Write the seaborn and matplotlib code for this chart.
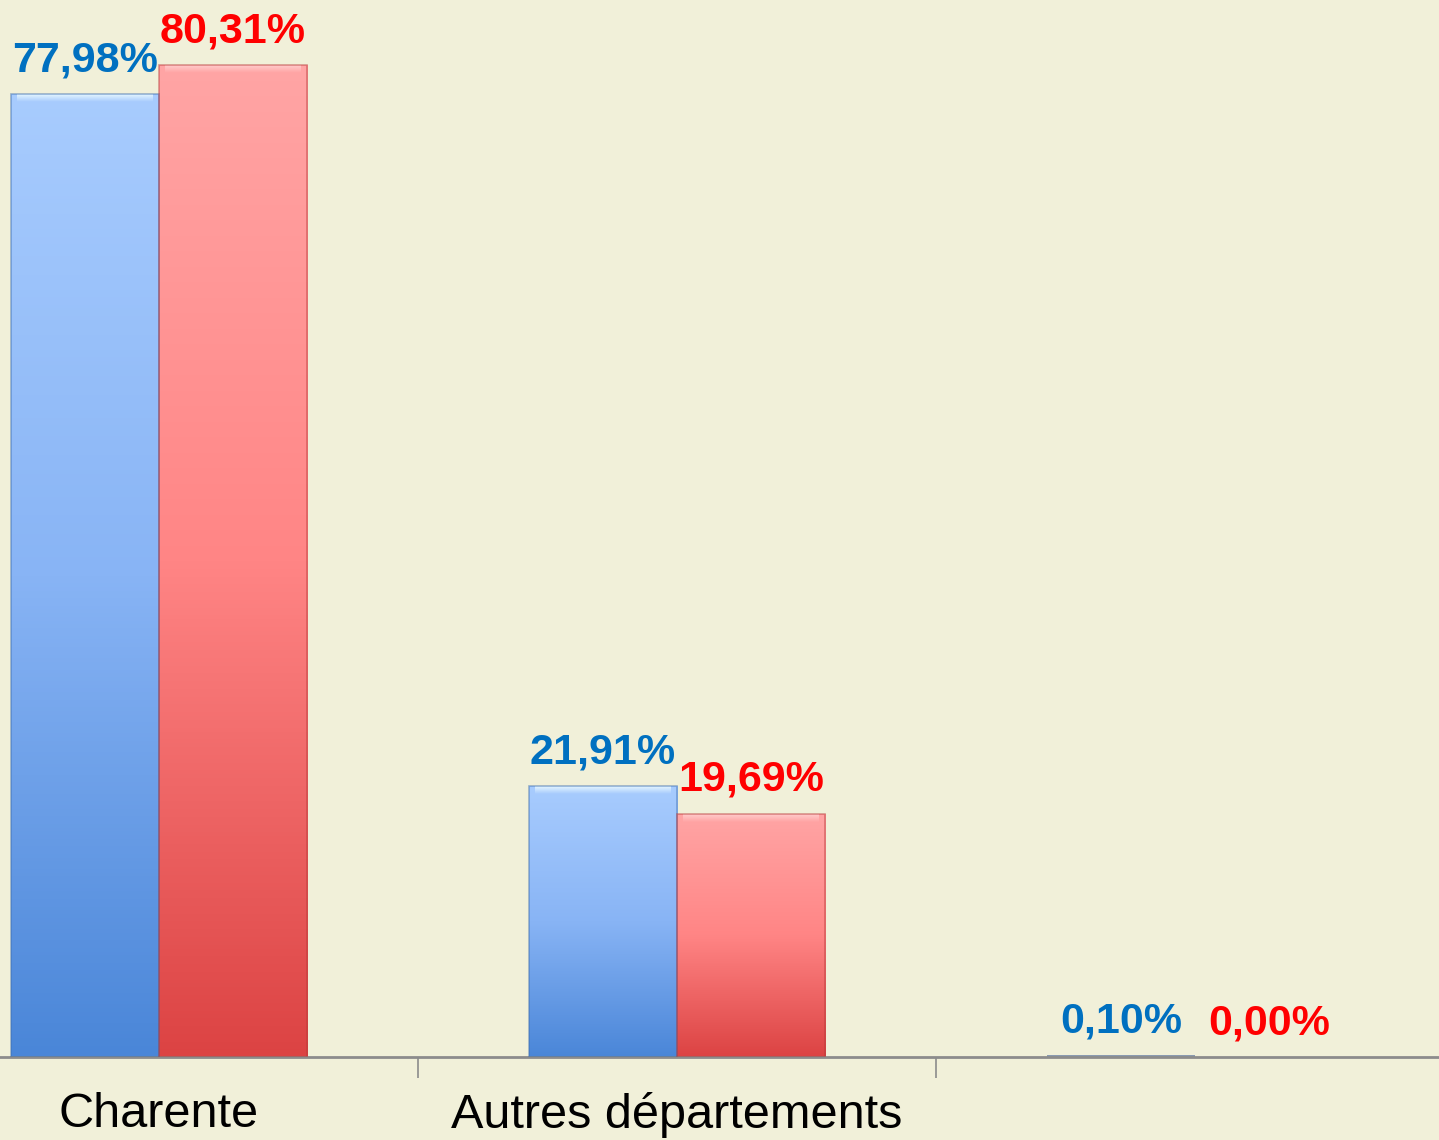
import numpy as np
import pandas as pd
import matplotlib
matplotlib.use("Agg")
import matplotlib.pyplot as plt
from matplotlib.colors import LinearSegmentedColormap
import seaborn as sns

categories = ["Charente", "Autres départements", " "]
series_names = ["Série A", "Série B"]
values_a = [77.98, 21.91, 0.10]
values_b = [80.31, 19.69, 0.00]
labels_a = ["77,98%", "21,91%", "0,10%"]
labels_b = ["80,31%", "19,69%", "0,00%"]

bg = "#F1F0D9"
sns.set_theme(style="white")
plt.rcParams['font.family'] = ['Liberation Sans', 'DejaVu Sans']

df = pd.DataFrame({
    "cat": categories * 2,
    "serie": [series_names[0]] * 3 + [series_names[1]] * 3,
    "val": values_a + values_b,
})

fig = plt.figure(figsize=(14.39, 11.40), dpi=100, facecolor=bg)
ax = fig.add_axes([0, 1 - 1057 / 1140, 1, 1057 / 1140])
ax.set_facecolor(bg)

sns.barplot(data=df, x="cat", y="val", hue="serie", order=categories,
            hue_order=series_names, palette=["#88B4F5", "#FF8585"],
            width=0.572, gap=0, dodge=True, ax=ax, legend=False,
            edgecolor="none", linewidth=0, saturation=1)

cmaps = {
    0: LinearSegmentedColormap.from_list("b", ["#4A86D8", "#88B4F5", "#A8CCFE"]),
    1: LinearSegmentedColormap.from_list("r", ["#DC4343", "#FF8585", "#FFA5A5"]),
}
edge_cols = {0: "#3E6FB0", 1: "#B83A3A"}
grad = np.linspace(0, 1, 256).reshape(-1, 1)
patches = [p for p in ax.patches]
for i, p in enumerate(patches):
    s = i // 3
    x0, y0 = p.get_x(), p.get_y()
    w, h = p.get_width(), p.get_height()
    if h <= 0:
        continue
    if h < 0.5:
        p.set_facecolor("#8A9AB0")
        p.set_height(0.18)
        continue
    im = ax.imshow(grad, cmap=cmaps[s], aspect="auto", origin="lower",
                   extent=[x0, x0 + w, y0, y0 + h], zorder=2)
    im.set_clip_path(p)
    # top bevel highlight
    hl = ax.imshow(np.linspace(0, 1, 32).reshape(-1, 1),
                   cmap=LinearSegmentedColormap.from_list(
                       "h", [cmaps[s](0.97), "#E4F6FF" if s == 0 else "#FFCCCC"]),
                   aspect="auto", origin="lower",
                   extent=[x0 + 0.012, x0 + w - 0.012, y0 + h - 0.65, y0 + h - 0.08], zorder=3)
    hl.set_clip_path(p)
    ax.add_patch(plt.Rectangle((x0, y0), w, h, fill=False,
                               edgecolor=edge_cols[s], linewidth=1.2, zorder=4, alpha=0.5))

ax.set_xlim(-0.307, 2.471)
ax.set_ylim(0, 85.6)

# value labels
for j in range(3):
    pa = patches[j]
    pb = patches[3 + j]
    ax.annotate(labels_a[j], (pa.get_x() + pa.get_width() / 2, values_a[j]),
                xytext=(0, 10), textcoords="offset points", ha="center", va="bottom",
                fontsize=31, fontweight="bold", color="#0070C0", zorder=6)
    ax.annotate(labels_b[j], (pb.get_x() + pb.get_width() / 2, values_b[j]),
                xytext=(0, 10), textcoords="offset points", ha="center", va="bottom",
                fontsize=31, fontweight="bold", color="#FF0000", zorder=6)

for sp in ["top", "right", "left"]:
    ax.spines[sp].set_visible(False)
ax.spines["bottom"].set_color("#8C8C8C")
ax.spines["bottom"].set_linewidth(2)
ax.set_yticks([])
ax.set_ylabel("")
ax.set_xlabel("")

ax.set_xticks([0.5, 1.5])
ax.set_xticklabels(["", ""])
ax.set_xticks([0, 1, 2], minor=True)
ax.set_xticklabels(categories, minor=True, fontsize=35, color="black")
ax.tick_params(axis="x", which="major", length=15, width=1.2, color="#8C8C8C", bottom=True)
ax.tick_params(axis="x", which="minor", length=0, pad=25)

fig.savefig("out.png", dpi=100, facecolor=bg)
